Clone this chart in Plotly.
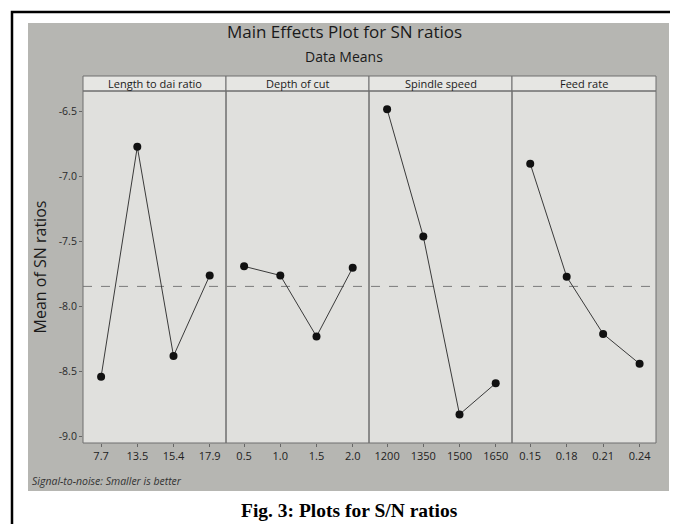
import plotly.graph_objects as go

W, H = 678, 524

factors = ["Length to dai ratio", "Depth of cut", "Spindle speed", "Feed rate"]
levels_length = ["7.7", "13.5", "15.4", "17.9"]
levels_depth = ["0.5", "1.0", "1.5", "2.0"]
levels_spindle = ["1200", "1350", "1500", "1650"]
levels_feed = ["0.15", "0.18", "0.21", "0.24"]
sn_length = [-8.54, -6.77, -8.38, -7.76]
sn_depth = [-7.69, -7.76, -8.23, -7.70]
sn_spindle = [-6.48, -7.46, -8.83, -8.59]
sn_feed = [-6.90, -7.77, -8.21, -8.44]
y_ticks = [-6.5, -7.0, -7.5, -8.0, -8.5, -9.0]
y_tick_labels = ["-6.5", "-7.0", "-7.5", "-8.0", "-8.5", "-9.0"]

levels = [levels_length, levels_depth, levels_spindle, levels_feed]
values = [sn_length, sn_depth, sn_spindle, sn_feed]
all_vals = [v for vs in values for v in vs]
grand_mean = sum(all_vals) / len(all_vals)


def px(x):
    return x / W


def py(y):
    return 1 - y / H


edges = [75, 218, 361, 504, 648]
plot_top, plot_bot = 83, 435
strip_top = 68

fig = go.Figure()
shapes = []
annotations = []

# photo background
shapes.append(dict(type="rect", xref="paper", yref="paper", x0=px(20), x1=px(661), y0=py(483), y1=py(15),
                   fillcolor="#b6b6b2", line=dict(width=0), layer="below"))
# plot area background
shapes.append(dict(type="rect", xref="paper", yref="paper", x0=px(edges[0]), x1=px(edges[-1]), y0=py(plot_bot), y1=py(plot_top),
                   fillcolor="#e0e0dd", line=dict(width=0), layer="below"))

for i in range(4):
    xa = "x" if i == 0 else f"x{i+1}"
    fig.add_trace(go.Scatter(
        x=levels[i], y=values[i], xaxis=xa, yaxis="y", mode="lines+markers",
        line=dict(color="#3a3a3a", width=1),
        marker=dict(color="#111111", size=8),
        showlegend=False, hoverinfo="x+y"))
    key = "xaxis" if i == 0 else f"xaxis{i+1}"
    fig.layout[key] = dict(
        domain=[px(edges[i]), px(edges[i + 1])], anchor="y", type="category",
        range=[-0.5, 3.45], showgrid=False, zeroline=False,
        ticks="outside", ticklen=3, tickcolor="#666", showline=False,
        tickfont=dict(family="Open Sans", size=11, color="#222"), fixedrange=True)
    # panel frame
    shapes.append(dict(type="rect", xref="paper", yref="paper", x0=px(edges[i]), x1=px(edges[i + 1]),
                       y0=py(plot_bot), y1=py(plot_top), line=dict(color="#6e6e6e", width=1), layer="above"))
    # strip
    shapes.append(dict(type="rect", xref="paper", yref="paper", x0=px(edges[i]), x1=px(edges[i + 1]),
                       y0=py(plot_top), y1=py(strip_top), fillcolor="#e6e6e3", line=dict(color="#6e6e6e", width=1), layer="below"))
    annotations.append(dict(text=factors[i], xref="paper", yref="paper",
                            x=px((edges[i] + edges[i + 1]) / 2), y=py((strip_top + plot_top) / 2),
                            showarrow=False, xanchor="center", yanchor="middle",
                            font=dict(family="Open Sans", size=11, color="#1a1a1a")))

# mean line
shapes.append(dict(type="line", xref="paper", yref="y", x0=px(edges[0]), x1=px(edges[-1]),
                   y0=grand_mean, y1=grand_mean, line=dict(color="#7a7a7a", width=1, dash="dash"), layer="below"))

# outer border
shapes.append(dict(type="rect", xref="paper", yref="paper", x0=px(4), x1=px(674), y0=py(520), y1=py(4),
                   line=dict(color="black", width=2.5), layer="above"))

fig.update_layout(
    yaxis=dict(domain=[py(plot_bot), py(plot_top)], anchor="x", range=[-9.05, -6.34],
               tickvals=y_ticks, ticktext=y_tick_labels, ticks="outside", ticklen=3, tickcolor="#666",
               showgrid=False, zeroline=False, showline=False,
               tickfont=dict(family="Open Sans", size=10.5, color="#2a2a2a"),
               title=dict(text="Mean of SN ratios", font=dict(family="Open Sans", size=16, color="#1a1a1a"), standoff=8),
               fixedrange=True),
)

annotations += [
    dict(text="Main Effects Plot for SN ratios", xref="paper", yref="paper", x=px(336), y=py(24),
         showarrow=False, xanchor="center", yanchor="middle", font=dict(family="Open Sans", size=17, color="#1a1a1a")),
    dict(text="Data Means", xref="paper", yref="paper", x=px(336), y=py(48),
         showarrow=False, xanchor="center", yanchor="middle", font=dict(family="Open Sans", size=14, color="#1a1a1a")),
    dict(text="<i>Signal-to-noise: Smaller is better</i>", xref="paper", yref="paper", x=px(22), y=py(473),
         showarrow=False, xanchor="left", yanchor="middle", font=dict(family="Open Sans", size=10.5, color="#333")),
    dict(text="<b>Fig. 3: Plots for S/N ratios</b>", xref="paper", yref="paper", x=px(341), y=py(502),
         showarrow=False, xanchor="center", yanchor="middle", font=dict(family="Liberation Serif", size=19.5, color="#000")),
]

fig.update_layout(
    width=W, height=H, margin=dict(l=0, r=0, t=0, b=0),
    paper_bgcolor="white", plot_bgcolor="rgba(0,0,0,0)",
    shapes=shapes, annotations=annotations, showlegend=False,
)

fig.write_html("out.html", config={"displayModeBar": False})
